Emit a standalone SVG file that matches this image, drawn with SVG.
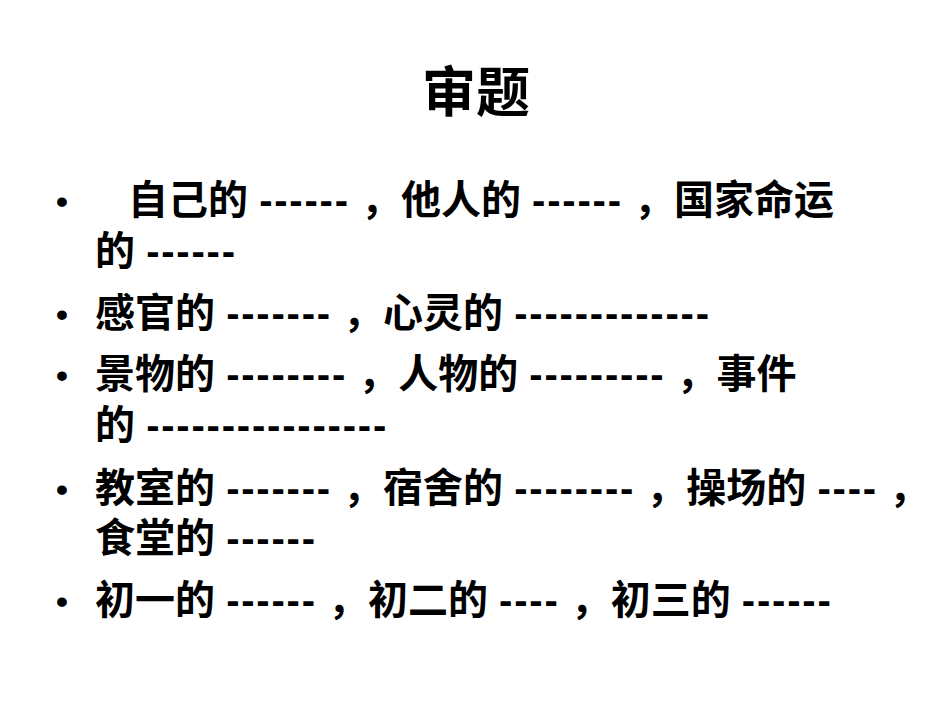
<svg xmlns="http://www.w3.org/2000/svg" width="950" height="713" viewBox="0 0 950 713">
<style>
text{font-family:"Liberation Sans","Noto Sans CJK SC",sans-serif;font-weight:bold;fill:#000}
.t{font-size:40px}
.b{font-size:34px}
.d{letter-spacing:1.8px}
</style>
<rect width="950" height="713" fill="#fff"/>
<text x="476" y="112" text-anchor="middle" style="font-size:54px">审题</text>
<g id="item1">
<text class="b" x="56" y="213">•</text>
<text class="t" x="128" y="214">自己的 <tspan class="d">------</tspan> ，他人的 <tspan class="d">------</tspan> ，国家命运</text>
<text class="t" x="95" y="265">的 <tspan class="d">------</tspan></text>
</g>
<g id="item2">
<text class="b" x="56" y="326">•</text>
<text class="t" x="95" y="327">感官的 <tspan class="d">-------</tspan> ，心灵的 <tspan class="d">-------------</tspan></text>
</g>
<g id="item3">
<text class="b" x="56" y="387">•</text>
<text class="t" x="95" y="388">景物的 <tspan class="d">--------</tspan> ，人物的 <tspan class="d">---------</tspan> ，事件</text>
<text class="t" x="95" y="439">的 <tspan class="d">----------------</tspan></text>
</g>
<g id="item4">
<text class="b" x="56" y="501">•</text>
<text class="t" x="95" y="502">教室的 <tspan class="d">-------</tspan> ，宿舍的 <tspan class="d">--------</tspan> ，操场的 <tspan class="d">----</tspan> ，</text>
<text class="t" x="95" y="552">食堂的 <tspan class="d">------</tspan></text>
</g>
<g id="item5">
<text class="b" x="56" y="613">•</text>
<text class="t" x="95" y="614">初一的 <tspan class="d">------</tspan> ，初二的 <tspan class="d">----</tspan> ，初三的 <tspan class="d">------</tspan></text>
</g>
<g id="connectors"/>
</svg>
